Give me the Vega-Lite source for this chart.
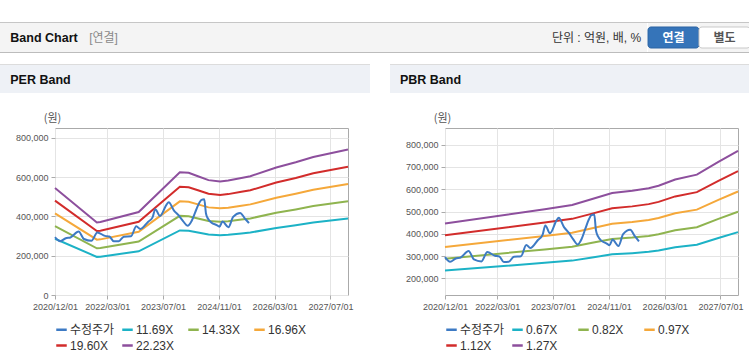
{
"$schema":"https://vega.github.io/schema/vega-lite/v6.json",
"padding":{"top":22,"left":0,"right":0,"bottom":0},
"background":"#ffffff",
"datasets":{
"per":[
{"date":"2020/12/01","series":"11.69X","value":286400},{"date":"2021/12/01","series":"11.69X","value":194100},{"date":"2022/01/01","series":"11.69X","value":195200},{"date":"2022/12/01","series":"11.69X","value":222100},{"date":"2023/11/25","series":"11.69X","value":328500},{"date":"2024/02/10","series":"11.69X","value":327300},{"date":"2024/05/01","series":"11.69X","value":318000},{"date":"2024/08/01","series":"11.69X","value":307400},{"date":"2024/11/10","series":"11.69X","value":303900},{"date":"2025/01/20","series":"11.69X","value":306300},{"date":"2025/05/15","series":"11.69X","value":313300},{"date":"2025/08/01","series":"11.69X","value":318000},{"date":"2026/03/15","series":"11.69X","value":341300},{"date":"2026/09/01","series":"11.69X","value":355400},{"date":"2027/02/01","series":"11.69X","value":369400},{"date":"2027/12/01","series":"11.69X","value":389300},
{"date":"2020/12/01","series":"14.33X","value":351100},{"date":"2021/12/01","series":"14.33X","value":237900},{"date":"2022/01/01","series":"14.33X","value":239300},{"date":"2022/12/01","series":"14.33X","value":272300},{"date":"2023/11/25","series":"14.33X","value":402700},{"date":"2024/02/10","series":"14.33X","value":401200},{"date":"2024/05/01","series":"14.33X","value":389800},{"date":"2024/08/01","series":"14.33X","value":376900},{"date":"2024/11/10","series":"14.33X","value":372600},{"date":"2025/01/20","series":"14.33X","value":375400},{"date":"2025/05/15","series":"14.33X","value":384000},{"date":"2025/08/01","series":"14.33X","value":389800},{"date":"2026/03/15","series":"14.33X","value":418400},{"date":"2026/09/01","series":"14.33X","value":435600},{"date":"2027/02/01","series":"14.33X","value":452800},{"date":"2027/12/01","series":"14.33X","value":477200},
{"date":"2020/12/01","series":"16.96X","value":415500},{"date":"2021/12/01","series":"16.96X","value":281500},{"date":"2022/01/01","series":"16.96X","value":283200},{"date":"2022/12/01","series":"16.96X","value":322200},{"date":"2023/11/25","series":"16.96X","value":476600},{"date":"2024/02/10","series":"16.96X","value":474900},{"date":"2024/05/01","series":"16.96X","value":461300},{"date":"2024/08/01","series":"16.96X","value":446000},{"date":"2024/11/10","series":"16.96X","value":441000},{"date":"2025/01/20","series":"16.96X","value":444400},{"date":"2025/05/15","series":"16.96X","value":454500},{"date":"2025/08/01","series":"16.96X","value":461300},{"date":"2026/03/15","series":"16.96X","value":495200},{"date":"2026/09/01","series":"16.96X","value":515600},{"date":"2027/02/01","series":"16.96X","value":535900},{"date":"2027/12/01","series":"16.96X","value":564800},
{"date":"2020/12/01","series":"19.60X","value":480200},{"date":"2021/12/01","series":"19.60X","value":325400},{"date":"2022/01/01","series":"19.60X","value":327300},{"date":"2022/12/01","series":"19.60X","value":372400},{"date":"2023/11/25","series":"19.60X","value":550800},{"date":"2024/02/10","series":"19.60X","value":548800},{"date":"2024/05/01","series":"19.60X","value":533100},{"date":"2024/08/01","series":"19.60X","value":515500},{"date":"2024/11/10","series":"19.60X","value":509600},{"date":"2025/01/20","series":"19.60X","value":513500},{"date":"2025/05/15","series":"19.60X","value":525300},{"date":"2025/08/01","series":"19.60X","value":533100},{"date":"2026/03/15","series":"19.60X","value":572300},{"date":"2026/09/01","series":"19.60X","value":595800},{"date":"2027/02/01","series":"19.60X","value":619400},{"date":"2027/12/01","series":"19.60X","value":652700},
{"date":"2020/12/01","series":"22.23X","value":544600},{"date":"2021/12/01","series":"22.23X","value":369000},{"date":"2022/01/01","series":"22.23X","value":371200},{"date":"2022/12/01","series":"22.23X","value":422400},{"date":"2023/11/25","series":"22.23X","value":624700},{"date":"2024/02/10","series":"22.23X","value":622400},{"date":"2024/05/01","series":"22.23X","value":604700},{"date":"2024/08/01","series":"22.23X","value":584600},{"date":"2024/11/10","series":"22.23X","value":578000},{"date":"2025/01/20","series":"22.23X","value":582400},{"date":"2025/05/15","series":"22.23X","value":595800},{"date":"2025/08/01","series":"22.23X","value":604700},{"date":"2026/03/15","series":"22.23X","value":649100},{"date":"2026/09/01","series":"22.23X","value":675800},{"date":"2027/02/01","series":"22.23X","value":702500},{"date":"2027/12/01","series":"22.23X","value":740300}
],
"pbr":[
{"date":"2020/12/01","series":"0.67X","value":235200},{"date":"2023/04/20","series":"0.67X","value":269300},{"date":"2023/12/15","series":"0.67X","value":279400},{"date":"2024/06/07","series":"0.67X","value":293500},{"date":"2024/11/28","series":"0.67X","value":307500},{"date":"2025/05/22","series":"0.67X","value":312900},{"date":"2025/10/13","series":"0.67X","value":318900},{"date":"2026/01/07","series":"0.67X","value":325000},{"date":"2026/06/01","series":"0.67X","value":339700},{"date":"2026/12/07","series":"0.67X","value":351100},{"date":"2027/06/13","series":"0.67X","value":381200},{"date":"2027/12/01","series":"0.67X","value":407400},
{"date":"2020/12/01","series":"0.82X","value":287800},{"date":"2023/04/20","series":"0.82X","value":329600},{"date":"2023/12/15","series":"0.82X","value":341900},{"date":"2024/06/07","series":"0.82X","value":359200},{"date":"2024/11/28","series":"0.82X","value":376400},{"date":"2025/05/22","series":"0.82X","value":382900},{"date":"2025/10/13","series":"0.82X","value":390300},{"date":"2026/01/07","series":"0.82X","value":397700},{"date":"2026/06/01","series":"0.82X","value":415700},{"date":"2026/12/07","series":"0.82X","value":429700},{"date":"2027/06/13","series":"0.82X","value":466600},{"date":"2027/12/01","series":"0.82X","value":498600},
{"date":"2020/12/01","series":"0.97X","value":340500},{"date":"2023/04/20","series":"0.97X","value":389900},{"date":"2023/12/15","series":"0.97X","value":404500},{"date":"2024/06/07","series":"0.97X","value":424900},{"date":"2024/11/28","series":"0.97X","value":445200},{"date":"2025/05/22","series":"0.97X","value":453000},{"date":"2025/10/13","series":"0.97X","value":461700},{"date":"2026/01/07","series":"0.97X","value":470500},{"date":"2026/06/01","series":"0.97X","value":491800},{"date":"2026/12/07","series":"0.97X","value":508300},{"date":"2027/06/13","series":"0.97X","value":551900},{"date":"2027/12/01","series":"0.97X","value":589800},
{"date":"2020/12/01","series":"1.12X","value":393100},{"date":"2023/04/20","series":"1.12X","value":450200},{"date":"2023/12/15","series":"1.12X","value":467000},{"date":"2024/06/07","series":"1.12X","value":490600},{"date":"2024/11/28","series":"1.12X","value":514100},{"date":"2025/05/22","series":"1.12X","value":523000},{"date":"2025/10/13","series":"1.12X","value":533100},{"date":"2026/01/07","series":"1.12X","value":543200},{"date":"2026/06/01","series":"1.12X","value":567800},{"date":"2026/12/07","series":"1.12X","value":586900},{"date":"2027/06/13","series":"1.12X","value":637300},{"date":"2027/12/01","series":"1.12X","value":681000},
{"date":"2020/12/01","series":"1.27X","value":445800},{"date":"2023/04/20","series":"1.27X","value":510500},{"date":"2023/12/15","series":"1.27X","value":529600},{"date":"2024/06/07","series":"1.27X","value":556300},{"date":"2024/11/28","series":"1.27X","value":582900},{"date":"2025/05/22","series":"1.27X","value":593100},{"date":"2025/10/13","series":"1.27X","value":604500},{"date":"2026/01/07","series":"1.27X","value":616000},{"date":"2026/06/01","series":"1.27X","value":643900},{"date":"2026/12/07","series":"1.27X","value":665500},{"date":"2027/06/13","series":"1.27X","value":722600},{"date":"2027/12/01","series":"1.27X","value":772200}
],
"price":[
{"date":"2020/12/01","series":"수정주가","value":295000},{"date":"2021/01/15","series":"수정주가","value":274000},{"date":"2021/03/05","series":"수정주가","value":289000},{"date":"2021/04/15","series":"수정주가","value":293000},{"date":"2021/06/25","series":"수정주가","value":323000},{"date":"2021/08/10","series":"수정주가","value":285000},{"date":"2021/10/15","series":"수정주가","value":276000},{"date":"2021/12/05","series":"수정주가","value":318000},{"date":"2022/02/10","series":"수정주가","value":301000},{"date":"2022/03/20","series":"수정주가","value":298000},{"date":"2022/04/28","series":"수정주가","value":273000},{"date":"2022/06/10","series":"수정주가","value":274000},{"date":"2022/07/25","series":"수정주가","value":297000},{"date":"2022/09/25","series":"수정주가","value":299000},{"date":"2022/11/10","series":"수정주가","value":350000},{"date":"2022/12/15","series":"수정주가","value":336000},{"date":"2023/02/20","series":"수정주가","value":372000},{"date":"2023/04/01","series":"수정주가","value":395000},{"date":"2023/04/25","series":"수정주가","value":437000},{"date":"2023/06/05","series":"수정주가","value":402000},{"date":"2023/08/01","series":"수정주가","value":460000},{"date":"2023/08/20","series":"수정주가","value":472000},{"date":"2023/10/05","series":"수정주가","value":430000},{"date":"2023/11/15","series":"수정주가","value":405000},{"date":"2023/12/25","series":"수정주가","value":375000},{"date":"2024/02/01","series":"수정주가","value":352000},{"date":"2024/03/07","series":"수정주가","value":377000},{"date":"2024/04/10","series":"수정주가","value":425000},{"date":"2024/05/05","series":"수정주가","value":460000},{"date":"2024/06/01","series":"수정주가","value":484000},{"date":"2024/06/25","series":"수정주가","value":487000},{"date":"2024/07/10","series":"수정주가","value":415000},{"date":"2024/07/28","series":"수정주가","value":388000},{"date":"2024/08/28","series":"수정주가","value":368000},{"date":"2024/10/12","series":"수정주가","value":356000},{"date":"2024/11/05","series":"수정주가","value":348000},{"date":"2024/12/01","series":"수정주가","value":374000},{"date":"2025/01/22","series":"수정주가","value":345000},{"date":"2025/03/04","series":"수정주가","value":398000},{"date":"2025/05/04","series":"수정주가","value":418000},{"date":"2025/06/16","series":"수정주가","value":388000},{"date":"2025/07/20","series":"수정주가","value":366000}
]
},
"vconcat":[
{
"vconcat":[
{"width":749,"height":1,"view":{"fill":"#c6c6c6","stroke":null},"data":{"values":[{"label":""}]},"mark":{"type":"text","fontSize":0},"encoding":{"text":{"field":"label"}}},
{
"hconcat":[
{"width":88,"height":29,"view":{"fill":"#f4f4f4","stroke":null},"data":{"values":[{"label":"Band Chart"}]},"mark":{"type":"text","font":"Liberation Sans","fontSize":12.5,"fontWeight":"bold","color":"#111111"},"encoding":{"text":{"field":"label"}}},
{"width":31,"height":29,"view":{"fill":"#f4f4f4","stroke":null},"data":{"values":[{"label":"[연결]"}]},"mark":{"type":"text","font":"Liberation Sans, Noto Sans CJK KR","fontSize":12,"color":"#8a8a8a"},"encoding":{"text":{"field":"label"}}},
{"width":427,"height":29,"view":{"fill":"#f4f4f4","stroke":null},"data":{"values":[{"label":""}]},"mark":{"type":"text","fontSize":0},"encoding":{"text":{"field":"label"}}},
{"width":101,"height":29,"view":{"fill":"#f4f4f4","stroke":null},"data":{"values":[{"label":"단위 : 억원, 배, %"}]},"mark":{"type":"text","font":"Liberation Sans, Noto Sans CJK KR","fontSize":12,"color":"#333333"},"encoding":{"text":{"field":"label"}}},
{"width":102,"height":29,"view":{"fill":"#f4f4f4","stroke":null},
 "data":{"values":[{"btn":"연결"},{"btn":"별도"}]},
 "encoding":{
  "x":{"field":"btn","type":"nominal","sort":null,"scale":{"domain":["연결","별도"],"paddingInner":0,"paddingOuter":0},"axis":null},
  "y":{"datum":"button","type":"nominal","scale":{"paddingOuter":0.19,"paddingInner":0},"axis":null}
 },
 "layer":[
  {"mark":{"type":"bar","cornerRadius":3,"strokeWidth":1},"encoding":{"fill":{"field":"btn","type":"nominal","scale":{"domain":["연결","별도"],"range":["#3574b9","#ffffff"]},"legend":null},"stroke":{"field":"btn","type":"nominal","scale":{"domain":["연결","별도"],"range":["#2c64a3","#c8c8c8"]},"legend":null}}},
  {"mark":{"type":"text","font":"Noto Sans CJK KR","fontSize":12,"fontWeight":"bold"},"encoding":{"text":{"field":"btn"},"color":{"field":"btn","type":"nominal","scale":{"domain":["연결","별도"],"range":["#ffffff","#555555"]},"legend":null}}}
 ],
 "resolve":{"scale":{"color":"independent","fill":"independent","stroke":"independent"}}
}
],
"spacing":0,
"resolve":{"scale":{"color":"independent","fill":"independent","stroke":"independent"},"legend":{"color":"independent","fill":"independent","stroke":"independent"}}
},
{"width":749,"height":1,"view":{"fill":"#bcbcbc","stroke":null},"data":{"values":[{"label":""}]},"mark":{"type":"text","fontSize":0},"encoding":{"text":{"field":"label"}}}
],
"spacing":0,
"resolve":{"scale":{"color":"independent","fill":"independent","stroke":"independent"},"legend":{"color":"independent","fill":"independent","stroke":"independent"}}
},
{
"hconcat":[
{
"vconcat":[
{"vconcat":[
{"width":370,"height":1,"view":{"fill":"#dcdcdc","stroke":null},"data":{"values":[{"label":""}]},"mark":{"type":"text","fontSize":0},"encoding":{"text":{"field":"label"}}},
{"hconcat":[
 {"width":81,"height":28,"view":{"fill":"#eef1f6","stroke":null},"data":{"values":[{"label":"PER Band"}]},"mark":{"type":"text","font":"Liberation Sans","fontSize":12.5,"fontWeight":"bold","color":"#111111","dy":1},"encoding":{"text":{"field":"label"}}},
 {"width":289,"height":28,"view":{"fill":"#eef1f6","stroke":null},"data":{"values":[{"label":""}]},"mark":{"type":"text","fontSize":0},"encoding":{"text":{"field":"label"}}}
],"spacing":0}
],"spacing":0},
{"hconcat":[
 {"width":1,"height":1,"data":{"values":[{"label":""}]},"mark":{"type":"text","fontSize":0},"encoding":{"text":{"field":"label"}}},
 {"width":293,"height":167,"view":{"stroke":"#aaaaaa","fill":"#ffffff"},
 "encoding":{
  "x":{"field":"date","type":"temporal","scale":{"domain":[{"year":2020,"month":12,"date":1},{"year":2027,"month":12,"date":1}]},
       "axis":{"values":[{"year":2020,"month":12,"date":1},{"year":2022,"month":3,"date":1},{"year":2023,"month":7,"date":1},{"year":2024,"month":11,"date":1},{"year":2026,"month":3,"date":1},{"year":2027,"month":7,"date":1}],"format":"%Y/%m/%d","title":null,"grid":true,"labelFlush":false,"labelOverlap":false}},
  "y":{"field":"value","type":"quantitative","scale":{"domain":[0,850000],"nice":false,"zero":false},
       "axis":{"values":[0,200000,400000,600000,800000],"format":",d","grid":true,"title":"(원)","titleAngle":0,"titleX":-3,"titleY":-10,"titleAlign":"center","titleBaseline":"middle","titleFontSize":11,"titleFontWeight":"normal","titleColor":"#555555","titleFont":"Noto Sans CJK KR","minExtent":53,"maxExtent":53}},
  "color":{"field":"series","type":"nominal","scale":{"domain":["수정주가","11.69X","14.33X","16.96X","19.60X","22.23X"],"range":["#3d7ac4","#1cb2c6","#8fb44f","#f5a83a","#d22c2b","#8d4f9d"]},
       "legend":{"orient":"none","legendX":0,"legendY":195,"direction":"horizontal","columns":4,"gridAlign":"all","columnPadding":2,"rowPadding":3,"symbolType":"stroke","symbolSize":110,"symbolStrokeWidth":2.5,"labelFontSize":12,"labelFont":"Liberation Sans, Noto Sans CJK KR","labelColor":"#333333","labelOffset":2,"title":null,"padding":0}}
 },
 "layer":[
  {"data":{"name":"per"},"mark":{"type":"line","strokeWidth":2}},
  {"data":{"name":"price"},"mark":{"type":"line","strokeWidth":2,"interpolate":"monotone"}}
 ]
 }
],"spacing":0,"resolve":{"scale":{"color":"independent"},"legend":{"color":"independent"}}}
],
"spacing":18,
"resolve":{"scale":{"color":"independent"},"legend":{"color":"independent"}}
},
{
"vconcat":[
{"vconcat":[
{"width":359,"height":1,"view":{"fill":"#dcdcdc","stroke":null},"data":{"values":[{"label":""}]},"mark":{"type":"text","fontSize":0},"encoding":{"text":{"field":"label"}}},
{"hconcat":[
 {"width":81,"height":28,"view":{"fill":"#eef1f6","stroke":null},"data":{"values":[{"label":"PBR Band"}]},"mark":{"type":"text","font":"Liberation Sans","fontSize":12.5,"fontWeight":"bold","color":"#111111","dy":1},"encoding":{"text":{"field":"label"}}},
 {"width":278,"height":28,"view":{"fill":"#eef1f6","stroke":null},"data":{"values":[{"label":""}]},"mark":{"type":"text","fontSize":0},"encoding":{"text":{"field":"label"}}}
],"spacing":0}
],"spacing":0},
{"hconcat":[
 {"width":1,"height":1,"data":{"values":[{"label":""}]},"mark":{"type":"text","fontSize":0},"encoding":{"text":{"field":"label"}}},
 {"width":293,"height":167,"view":{"stroke":"#aaaaaa","fill":"#ffffff"},
 "encoding":{
  "x":{"field":"date","type":"temporal","scale":{"domain":[{"year":2020,"month":12,"date":1},{"year":2027,"month":12,"date":1}]},
       "axis":{"values":[{"year":2020,"month":12,"date":1},{"year":2022,"month":3,"date":1},{"year":2023,"month":7,"date":1},{"year":2024,"month":11,"date":1},{"year":2026,"month":3,"date":1},{"year":2027,"month":7,"date":1}],"format":"%Y/%m/%d","title":null,"grid":true,"labelFlush":false,"labelOverlap":false}},
  "y":{"field":"value","type":"quantitative","scale":{"domain":[125000,875000],"nice":false,"zero":false},
       "axis":{"values":[200000,300000,400000,500000,600000,700000,800000],"format":",d","grid":true,"title":"(원)","titleAngle":0,"titleX":-3,"titleY":-10,"titleAlign":"center","titleBaseline":"middle","titleFontSize":11,"titleFontWeight":"normal","titleColor":"#555555","titleFont":"Noto Sans CJK KR","minExtent":53,"maxExtent":53}},
  "color":{"field":"series","type":"nominal","scale":{"domain":["수정주가","0.67X","0.82X","0.97X","1.12X","1.27X"],"range":["#3d7ac4","#1cb2c6","#8fb44f","#f5a83a","#d22c2b","#8d4f9d"]},
       "legend":{"orient":"none","legendX":0,"legendY":195,"direction":"horizontal","columns":4,"gridAlign":"all","columnPadding":2,"rowPadding":3,"symbolType":"stroke","symbolSize":110,"symbolStrokeWidth":2.5,"labelFontSize":12,"labelFont":"Liberation Sans, Noto Sans CJK KR","labelColor":"#333333","labelOffset":2,"title":null,"padding":0}}
 },
 "layer":[
  {"data":{"name":"pbr"},"mark":{"type":"line","strokeWidth":2}},
  {"data":{"name":"price"},"mark":{"type":"line","strokeWidth":2,"interpolate":"monotone"}}
 ]
 }
],"spacing":0,"resolve":{"scale":{"color":"independent"},"legend":{"color":"independent"}}}
],
"spacing":18,
"resolve":{"scale":{"color":"independent"},"legend":{"color":"independent"}}
}
],
"spacing":20,
"resolve":{"scale":{"color":"independent"},"legend":{"color":"independent"}}
}
],
"spacing":11,
"resolve":{"scale":{"color":"independent","fill":"independent","stroke":"independent"},"legend":{"color":"independent","fill":"independent","stroke":"independent"}},
"config":{
 "font":"Liberation Sans",
 "view":{"stroke":null},
 "axis":{"labelFont":"Liberation Sans","labelFontSize":9,"labelColor":"#555555","tickColor":"#aaaaaa","tickSize":4,"domain":false,"gridColor":"#e4e4e4","labelPadding":3}
}
}
